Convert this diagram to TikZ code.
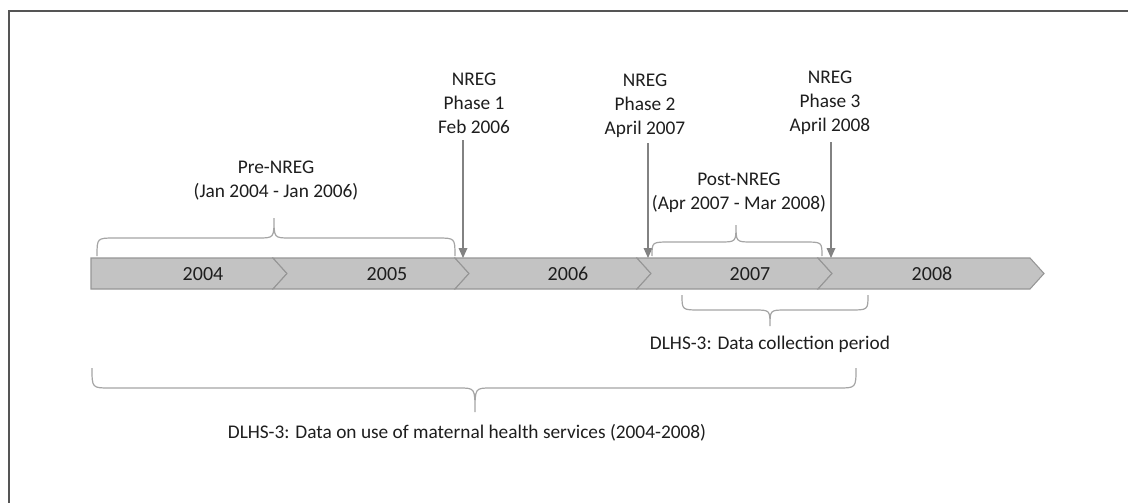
\documentclass[tikz,border=0pt]{standalone}
\usepackage{fontspec}
\setmainfont{Carlito}
\usetikzlibrary{arrows.meta}
\definecolor{segfill}{RGB}{195,195,195}
\definecolor{segline}{RGB}{150,150,150}
\definecolor{brcol}{RGB}{165,165,165}
\definecolor{arcol}{RGB}{130,130,130}
\definecolor{txt}{RGB}{30,30,30}
\definecolor{framecol}{RGB}{85,85,85}
\newcommand{\mybrace}[6]{%
  \draw[brc] (#1,#4) .. controls (#1,#5) .. ({#1+18},#5) -- ({#3-16},#5)
    .. controls (#3,#5) .. (#3,#6) .. controls (#3,#5) .. ({#3+16},#5)
    -- ({#2-18},#5) .. controls (#2,#5) .. (#2,#4);}
\begin{document}
\begin{tikzpicture}[x=0.75pt,y=-0.75pt,
  lbl/.style={font=\fontsize{14.5}{18}\selectfont, text=txt, align=center, inner sep=0pt},
  yr/.style={font=\fontsize{15}{18}\selectfont, text=txt, inner sep=0pt},
  seg/.style={fill=segfill, draw=segline, line width=0.8pt, line join=miter},
  brc/.style={draw=brcol, line width=0.9pt},
  arr/.style={draw=arcol, line width=0.9pt, -{Triangle[width=6.5pt,length=7.5pt]}}]
\useasboundingbox (0,0) rectangle (1128,503);
\fill[white] (0,0) rectangle (1128,503);
% frame (only top and left visible)
\draw[framecol, line width=1.5pt] (8.5,503) -- (8.5,11.5) -- (1128,11.5);

% timeline chevrons
\draw[seg] (91,258) -- (273,258) -- (287,273.5) -- (273,289) -- (91,289) -- cycle;
\draw[seg] (273,258) -- (455,258) -- (469,273.5) -- (455,289) -- (273,289) -- (287,273.5) -- cycle;
\draw[seg] (455,258) -- (637,258) -- (651,273.5) -- (637,289) -- (455,289) -- (469,273.5) -- cycle;
\draw[seg] (637,258) -- (818,258) -- (832,273.5) -- (818,289) -- (637,289) -- (651,273.5) -- cycle;
\draw[seg] (818,258) -- (1030,258) -- (1044,273.5) -- (1030,289) -- (818,289) -- (832,273.5) -- cycle;

\node[yr] (y04) at (203,274) {2004};
\node[yr] (y05) at (387,274) {2005};
\node[yr] (y06) at (568,274) {2006};
\node[yr] (y07) at (750,274) {2007};
\node[yr] (y08) at (932,274) {2008};

% NREG phases
\node[lbl] (p1) at (474,103) {NREG\\Phase 1\\Feb 2006};
\node[lbl] (p2) at (645,106) {NREG\\Phase 2\\April 2007};
\node[lbl] (p3) at (830,103) {NREG\\Phase 3\\April 2008};
\coordinate (a1s) at (463,140);
\coordinate (a1e) at (463,258);
\coordinate (a2s) at (648,143);
\coordinate (a2e) at (648,258);
\coordinate (a3s) at (831,142);
\coordinate (a3e) at (831,258);
\draw[arr] (a1s) -- (a1e);
\draw[arr] (a2s) -- (a2e);
\draw[arr] (a3s) -- (a3e);

% Pre-NREG
\node[lbl] (pre) at (276,181) {Pre-NREG\\(Jan 2004 - Jan 2006)};
\mybrace{97}{455}{274}{256}{238}{218}
% Post-NREG
\node[lbl] (post) at (739,193) {Post-NREG\\(Apr 2007 - Mar 2008)};
\mybrace{652}{822}{736}{256}{242}{225}
% Data collection period
\mybrace{682}{868}{770}{295}{310}{326}
\node[lbl] (dc) at (770,344) {DLHS-3: Data collection period};
% Data on use of maternal health services
\mybrace{92}{856}{475}{368}{388}{412}
\node[lbl] (dm) at (467,433) {DLHS-3: Data on use of maternal health services (2004-2008)};
\end{tikzpicture}
\end{document}
